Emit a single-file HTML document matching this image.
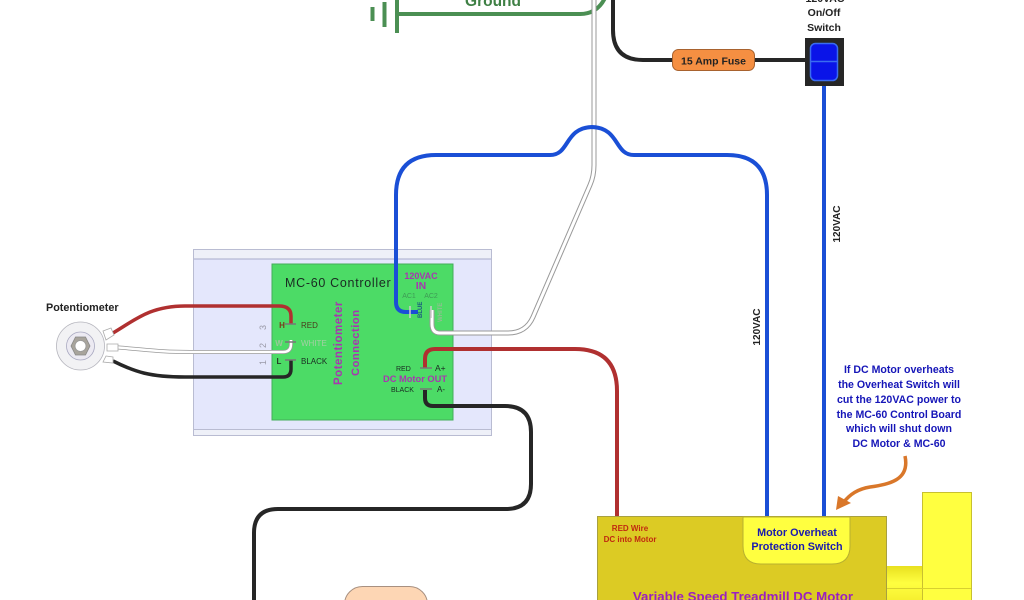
<!DOCTYPE html>
<html><head><meta charset="utf-8"><style>
html,body{margin:0;padding:0;background:#fff;width:1024px;height:600px;overflow:hidden}
svg{display:block}
text{font-family:"Liberation Sans",sans-serif;font-weight:bold}
</style></head><body>
<svg width="1024" height="600" viewBox="0 0 1024 600" xmlns="http://www.w3.org/2000/svg">
<defs><linearGradient id="y" x1="0" y1="0" x2="0" y2="1"><stop offset="0" stop-color="#e8e020"/><stop offset=".5" stop-color="#ffff40"/><stop offset="1" stop-color="#f6f030"/></linearGradient></defs>
<rect width="1024" height="600" fill="#fff"/>
<!-- panel -->
<rect x="193.500" y="249.500" width="298" height="186" fill="#e4e7fc" stroke="#b9bcd2"/>
<rect x="194" y="250" width="297" height="9" fill="#eef0f8"/>
<line x1="194" y1="259" x2="491" y2="259" stroke="#a8abca"/>
<rect x="194" y="430" width="297" height="5" fill="#eef0f8"/>
<line x1="194" y1="429.500" x2="491" y2="429.500" stroke="#b9bcd2"/>
<rect x="272" y="264" width="181" height="156" fill="#4cdb66" stroke="#44ad5a"/>
<!-- ground -->
<g fill="none" stroke="#4b8f53">
<path d="M398 14H580Q597 14 605 -2" stroke-width="4"/>
<path d="M397 0V33" stroke-width="4"/>
<path d="M384.500 2V27" stroke-width="4"/>
<path d="M372.500 7V21" stroke-width="4"/>
</g>
<text x="493" y="6" font-size="15.500" fill="#3f8045" text-anchor="middle">Ground</text>
<!-- white mains wire -->
<path d="M594 0V165Q594 176 590 185L533 317Q526 333 508 333H440Q432 333 432 324V310" fill="none" stroke="#999" stroke-width="5"/>
<path d="M594 0V165Q594 176 590 185L533 317Q526 333 508 333H440Q432 333 432 324V310" fill="none" stroke="#fff" stroke-width="3"/>
<!-- black mains -->
<path d="M613 0V30Q613 60 643 60H806" fill="none" stroke="#262626" stroke-width="4"/>
<rect x="672.500" y="49.500" width="82" height="21" rx="6" fill="#f58f42" stroke="#a8622e"/>
<text x="713.500" y="64.500" font-size="10.500" fill="#222" text-anchor="middle">15 Amp Fuse</text>
<!-- switch -->
<text x="825" y="2" font-size="10.500" fill="#222" text-anchor="middle">120VAC</text>
<text x="824" y="16" font-size="10.500" fill="#222" text-anchor="middle">On/Off</text>
<text x="824" y="31" font-size="10.500" fill="#222" text-anchor="middle">Switch</text>
<rect x="805" y="38" width="39" height="48" fill="#262626"/>
<rect x="810.500" y="43.500" width="27" height="37" rx="5" fill="#0a14e8" stroke="#3a6cf0" stroke-width="1.500"/>
<line x1="811" y1="61.500" x2="837" y2="61.500" stroke="#3a6cf0" stroke-width="1.500"/>
<!-- blue wires -->
<path d="M824 86V518" fill="none" stroke="#1a4fd6" stroke-width="4"/>
<path d="M767 518V195Q767 155 727 155H634C614 155 620 128 592 127C564 128 570 155 550 155H436Q396 155 396 195V302Q396 312 406 312H418" fill="none" stroke="#1a4fd6" stroke-width="4"/>
<text transform="translate(840,224) rotate(-90)" font-size="10" fill="#222" text-anchor="middle">120VAC</text>
<text transform="translate(760,327) rotate(-90)" font-size="10" fill="#222" text-anchor="middle">120VAC</text>
<!-- pot wires -->
<path d="M113 333C135 320 150 306 185 306H279Q291 306 291 316V324" fill="none" stroke="#b03030" stroke-width="3.500"/>
<path d="M113 347C150 350 160 352 190 352H283Q291 352 291 344V340" fill="none" stroke="#999" stroke-width="4"/>
<path d="M113 347C150 350 160 352 190 352H283Q291 352 291 344V340" fill="none" stroke="#fff" stroke-width="2.500"/>
<path d="M113 361C135 372 150 377 185 377H283Q291 377 291 369V360" fill="none" stroke="#262626" stroke-width="3.500"/>
<!-- motor wires -->
<path d="M425 368V359Q425 349 435 349H575Q617 349 617 391V518" fill="none" stroke="#b03030" stroke-width="4"/>
<path d="M425 390V398Q425 406 433 406H505Q531 406 531 432V484Q531 509 506 509H278Q254 509 254 533V600" fill="none" stroke="#262626" stroke-width="4"/>
<!-- terminals -->
<g stroke="#777" stroke-width="1.500">
<path d="M285 324H296M285 342H296M285 360H296M420 368H432M420 389H432"/>
<path d="M410 306V318M431 306V318" stroke="#ccc"/>
</g>
<!-- controller labels -->
<text x="285" y="287" font-size="12.500" fill="#1a2a22" style="font-weight:normal" letter-spacing=".7">MC-60 Controller</text>
<text x="421" y="279" font-size="9" fill="#a836b0" text-anchor="middle">120VAC</text>
<text x="421" y="289" font-size="10.500" fill="#a836b0" text-anchor="middle">IN</text>
<text x="409" y="298" font-size="7" fill="#3e9a55" style="font-weight:normal" text-anchor="middle">AC1</text>
<text x="431" y="298" font-size="7" fill="#3e9a55" style="font-weight:normal" text-anchor="middle">AC2</text>
<text transform="translate(422,318) rotate(-90)" font-size="6" fill="#1a5a80">BLUE</text>
<text transform="translate(442,322) rotate(-90)" font-size="6" fill="#8fbf90">WHITE</text>
<text x="282" y="328" font-size="8" fill="#7a3a1a" text-anchor="middle">H</text>
<text x="279" y="346" font-size="8" fill="#9ac89a" text-anchor="middle">W</text>
<text x="279" y="364" font-size="8" fill="#263a26" text-anchor="middle">L</text>
<text x="301" y="328" font-size="8" fill="#4a3a1a" style="font-weight:normal">RED</text>
<text x="301" y="346" font-size="8" fill="#a6cfa6" style="font-weight:normal">WHITE</text>
<text x="301" y="364" font-size="8" fill="#1a2a22" style="font-weight:normal">BLACK</text>
<text transform="translate(342,385) rotate(-90)" font-size="11.500" fill="#a836b0" letter-spacing=".5">Potentiometer</text>
<text transform="translate(359,376) rotate(-90)" font-size="11.200" fill="#a836b0" letter-spacing=".5">Connection</text>
<text x="396" y="371" font-size="7" fill="#1a2a22" style="font-weight:normal">RED</text>
<text x="435" y="371" font-size="8.500" fill="#1a2a22" style="font-weight:normal">A+</text>
<text x="383" y="382" font-size="9.300" fill="#a836b0">DC Motor OUT</text>
<text x="391" y="392" font-size="7" fill="#1a2a22" style="font-weight:normal">BLACK</text>
<text x="437" y="392" font-size="8" fill="#1a2a22" style="font-weight:normal">A-</text>
<text transform="translate(266,330) rotate(-90)" font-size="9" fill="#9a9aa8" style="font-weight:normal">3</text>
<text transform="translate(266,348) rotate(-90)" font-size="9" fill="#9a9aa8" style="font-weight:normal">2</text>
<text transform="translate(266,365) rotate(-90)" font-size="9" fill="#9a9aa8" style="font-weight:normal">1</text>
<!-- potentiometer -->
<text x="46" y="311" font-size="10.800" fill="#222">Potentiometer</text>
<g stroke="#aaa" fill="#fff" stroke-width=".8">
<path d="M103 331L111 328L114 335L106 340Z"/>
<path d="M107 344H118V351H107Z"/>
<path d="M106 356L113 357L113 363L103 362Z"/>
<circle cx="80.500" cy="346" r="24" fill="#f2f2f4" stroke="#b4b4bc"/>
<circle cx="80.500" cy="346" r="14" fill="#eceaf2" stroke="#a8a8c0"/>
<path d="M71 346L75.500 337H85.500L90 346L85.500 355H75.500Z" fill="#a8a49c" stroke="#888"/>
<circle cx="80.500" cy="346" r="5.500" fill="#fff" stroke="#999"/>
</g>
<!-- annotation -->
<g font-size="10.600" fill="#1616b8" text-anchor="middle">
<text x="899" y="373">If DC Motor overheats</text>
<text x="899" y="388">the Overheat Switch will</text>
<text x="899" y="403">cut the 120VAC power to</text>
<text x="899" y="418">the MC-60 Control Board</text>
<text x="899" y="432">which will shut down</text>
<text x="899" y="447">DC Motor &amp; MC-60</text>
</g>
<path d="M905 456C910 480 890 484 870 487C858 489 850 494 843 503" fill="none" stroke="#d9772a" stroke-width="3.500"/>
<path d="M836 510L838 496L851 503Z" fill="#d9772a"/>
<!-- motor -->
<rect x="886" y="566" width="40" height="34" fill="url(#y)"/>
<rect x="922.500" y="492.500" width="49" height="108" fill="#ffff40" stroke="#c8c030"/>
<path d="M886 588.500H971" stroke="#d8d030"/>
<rect x="597.500" y="516.500" width="289" height="90" fill="#dccb24" stroke="#a8a040"/>
<path d="M743 517H850V546Q850 564 832 564H761Q743 564 743 546Z" fill="#ffff40" stroke="#b8b030"/>
<text x="797" y="536" font-size="10.800" fill="#1a1ab0" text-anchor="middle">Motor Overheat</text>
<text x="797" y="550" font-size="10.800" fill="#1a1ab0" text-anchor="middle">Protection Switch</text>
<text x="630" y="531" font-size="8" fill="#c02a10" text-anchor="middle">RED Wire</text>
<text x="630" y="542" font-size="8" fill="#c02a10" text-anchor="middle">DC into Motor</text>
<text x="743" y="601" font-size="13.300" fill="#9a20c0" text-anchor="middle">Variable Speed Treadmill DC Motor</text>
<!-- peach box -->
<rect x="344.500" y="586.500" width="83" height="40" rx="18" fill="#fdd6b4" stroke="#a89080"/>
</svg>
</body></html>
